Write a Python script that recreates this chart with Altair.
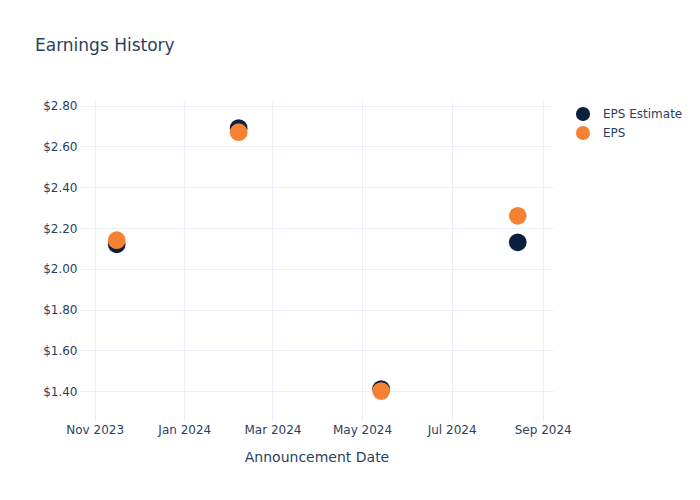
import altair as alt
import pandas as pd

dates = ["2023-11-16", "2024-02-07", "2024-05-14", "2024-08-15"]
eps_estimate = [2.12, 2.69, 1.41, 2.13]
eps_actual = [2.14, 2.67, 1.40, 2.26]
series_names = ["EPS Estimate", "EPS"]
colors = ["#0d1f3f", "#f58233"]
y_ticks = [1.4, 1.6, 1.8, 2.0, 2.2, 2.4, 2.6, 2.8]

rows = []
for d, v in zip(dates, eps_estimate):
    rows.append({"date": d, "value": v, "series": series_names[0]})
for d, v in zip(dates, eps_actual):
    rows.append({"date": d, "value": v, "series": series_names[1]})
df = pd.DataFrame(rows)

FONT = "DejaVu Sans"
TXT = "#2a3f5f"
GRID = "#ebf0f8"

chart = alt.Chart(df).mark_circle(size=314, opacity=1).encode(
    x=alt.X(
        "date:T",
        title="Announcement Date",
        scale=alt.Scale(
            type="utc",
            domain=[
                alt.DateTime(year=2023, month=10, date=22, utc=True),
                alt.DateTime(year=2024, month=9, date=8, utc=True),
            ],
            nice=False,
        ),
        axis=alt.Axis(
            labelExpr="utcFormat(datum.value, '%b %Y')",
            tickCount={"interval": "month", "step": 2},
            grid=True,
            gridColor=GRID,
            ticks=False,
            domain=False,
            labelPadding=4,
            labelFontSize=12,
            labelColor=TXT,
            labelFont=FONT,
            titleFont=FONT,
            titleFontSize=14,
            titleFontWeight="normal",
            titleColor=TXT,
            titlePadding=15,
        ),
    ),
    y=alt.Y(
        "value:Q",
        title=None,
        scale=alt.Scale(domain=[1.258, 2.828], nice=False, zero=False),
        axis=alt.Axis(
            values=y_ticks,
            format="$.2f",
            grid=True,
            gridColor=GRID,
            ticks=False,
            domain=False,
            labelPadding=3,
            labelFontSize=12,
            labelColor=TXT,
            labelFont=FONT,
        ),
    ),
    color=alt.Color(
        "series:N",
        scale=alt.Scale(domain=series_names, range=colors),
        legend=alt.Legend(
            title=None,
            orient="none",
            legendX=495,
            legendY=6,
            symbolType="circle",
            symbolSize=200,
            symbolOpacity=1,
            labelFont=FONT,
            labelFontSize=12,
            labelColor=TXT,
            labelOffset=12,
            rowPadding=3,
            padding=0,
        ),
    ),
    order=alt.Order("order:Q"),
).transform_calculate(
    order="datum.series == 'EPS' ? 1 : 0"
).properties(
    width=473,
    height=320,
    padding={"left": 80, "top": 100, "right": 147, "bottom": 80},
    autosize=alt.AutoSizeParams(type="none"),
    title=alt.TitleParams(
        "Earnings History",
        anchor="start",
        frame="group",
        font=FONT,
        fontSize=17,
        fontWeight="normal",
        color=TXT,
        dx=-45,
        baseline="alphabetic",
        offset=32,
    ),
).configure(background="white").configure_view(strokeWidth=0)

chart.save("out.html", embed_options={"renderer": "svg", "actions": False})
